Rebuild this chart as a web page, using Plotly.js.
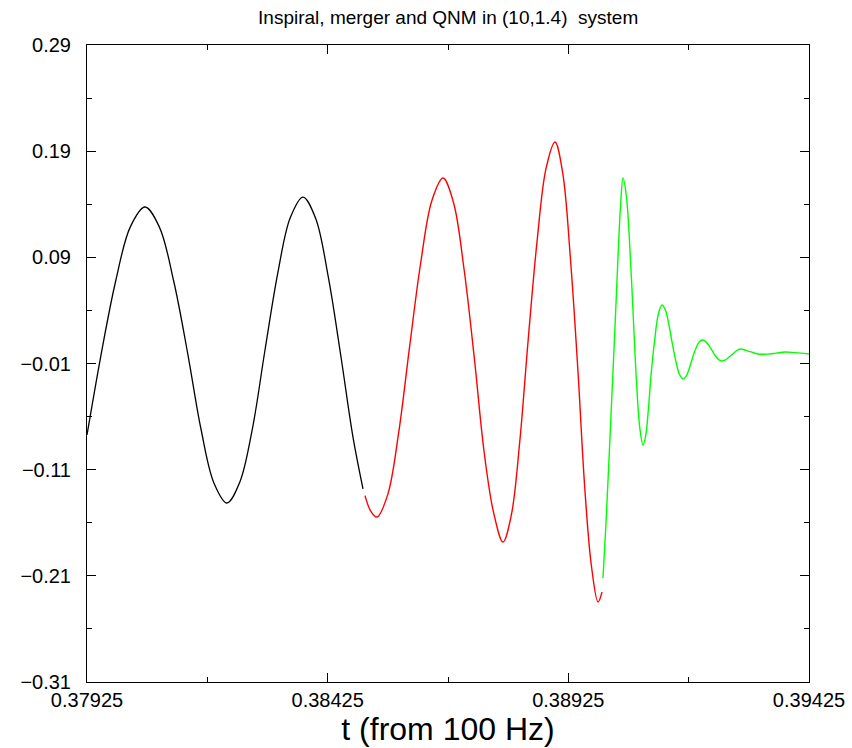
<!DOCTYPE html>
<html>
<head>
<meta charset="utf-8">
<script src="https://cdn.plot.ly/plotly-3.0.1.min.js"></script>
<style>html,body{margin:0;padding:0;background:#fff;}#chart{width:852px;height:748px;}</style>
</head>
<body>
<div id="chart"></div>
<script>
// Inspiral segment (black)
const inspiralT = [0.37925,0.379541,0.379846,0.380150,0.380455,0.380752,0.381051,0.381348,0.381618,0.381889,0.382159,0.382422,0.382684,0.382948,0.383212,0.383474,0.383738,0.384001,0.384263,0.384527,0.384776,0.384984];
const inspiralH = [-0.0773,-0.0020,0.0677,0.1187,0.1374,0.1187,0.0677,-0.0020,-0.0717,-0.1227,-0.1414,-0.1221,-0.0720,0.0027,0.0747,0.1275,0.1468,0.1266,0.0715,-0.0039,-0.0793,-0.1280];
// Merger segment (red)
const mergerT = [0.385026,0.385150,0.385275,0.385499,0.385726,0.385950,0.386183,0.386414,0.386646,0.386864,0.387083,0.387301,0.387498,0.387695,0.387893,0.388065,0.388240,0.388412,0.388599,0.388786,0.388973,0.389133,0.389291,0.389451,0.389590,0.389728,0.389867,0.389950];
const mergerH = [-0.1344,-0.1495,-0.1546,-0.1333,-0.0749,0.0050,0.0849,0.1433,0.1647,0.1417,0.0790,-0.0067,-0.0924,-0.1500,-0.1781,-0.1529,-0.0839,0.0103,0.1045,0.1735,0.1986,0.1696,0.0903,-0.0180,-0.1263,-0.2000,-0.2346,-0.2252];
// Quasi-normal-mode ringdown (green)
const qnmT = [0.389970,0.390033,0.390095,0.390157,0.390220,0.390282,0.390334,0.390386,0.390455,0.390525,0.390594,0.390662,0.390733,0.390801,0.390857,0.390912,0.390968,0.391044,0.391119,0.391196,0.391265,0.391335,0.391404,0.391481,0.391556,0.391632,0.391695,0.391757,0.391819,0.391888,0.391959,0.392027,0.392096,0.392167,0.392235,0.392304,0.392374,0.392443,0.392505,0.392567,0.392640,0.392713,0.392775,0.392837,0.393025,0.393191,0.393378,0.393565,0.393752,0.393959,0.39425];
const qnmH = [-0.2120,-0.1600,-0.1000,-0.0380,0.0250,0.0900,0.1380,0.1647,0.1480,0.1019,0.0390,-0.0239,-0.0700,-0.0868,-0.0781,-0.0539,-0.0209,0.0121,0.0363,0.0451,0.0405,0.0277,0.0103,-0.0072,-0.0199,-0.0246,-0.0222,-0.0155,-0.0063,0.0029,0.0096,0.0121,0.0109,0.0072,0.0023,-0.0027,-0.0063,-0.0076,-0.0069,-0.0048,-0.0020,0.0009,0.0029,0.0037,0.0012,-0.0010,-0.0012,-0.0002,0.0008,0.0002,-0.0010];

const xTicks = [0.37925,0.38425,0.38925,0.39425];
const xTickText = ["0.37925","0.38425","0.38925","0.39425"];
const yTicks = [-0.31,-0.21,-0.11,-0.01,0.09,0.19,0.29];
const yTickText = ["\u22120.31","\u22120.21","\u22120.11","\u22120.01","0.09","0.19","0.29"];

const FONT = "Liberation Sans, Arial, sans-serif";

const traces = [
  {x: inspiralT, y: inspiralH, mode: "lines", line: {color: "#000000", width: 1.3, shape: "spline", smoothing: 1}, hoverinfo: "skip"},
  {x: mergerT, y: mergerH, mode: "lines", line: {color: "#ff0000", width: 1.4, shape: "spline", smoothing: 1}, hoverinfo: "skip"},
  {x: qnmT, y: qnmH, mode: "lines", line: {color: "#00ff00", width: 1.4, shape: "spline", smoothing: 1}, hoverinfo: "skip"}
];

const layout = {
  width: 852, height: 748,
  paper_bgcolor: "#ffffff", plot_bgcolor: "#ffffff",
  showlegend: false,
  margin: {l: 87, r: 43, t: 45, b: 66, pad: 0},
  font: {family: FONT, color: "#000000", size: 20},
  title: {text: "Inspiral, merger and QNM in (10,1.4)  system", font: {family: FONT, size: 19, color: "#000"}, x: 0.526, xanchor: "center", y: 0.977, yanchor: "middle"},
  xaxis: {
    range: [0.37925, 0.39425], tickmode: "array", tickvals: xTicks, ticktext: xTickText,
    ticks: "inside", ticklen: 9, tickwidth: 1, tickcolor: "#000",
    minor: {ticks: "inside", ticklen: 5, tickmode: "linear", tick0: 0.37925, dtick: 0.0025, tickcolor: "#000", showgrid: false},
    showline: true, linecolor: "#000", linewidth: 1, mirror: "allticks",
    showgrid: false, zeroline: false, automargin: false,
    tickfont: {family: FONT, size: 20},
    ticklabelstandoff: 0,
    title: {text: "t (from 100 Hz)", font: {family: FONT, size: 32}, standoff: 0}
  },
  yaxis: {
    range: [-0.31, 0.29], tickmode: "array", tickvals: yTicks, ticktext: yTickText,
    ticks: "inside", ticklen: 9, tickwidth: 1, tickcolor: "#000",
    minor: {ticks: "inside", ticklen: 5, tickmode: "linear", tick0: -0.31, dtick: 0.05, tickcolor: "#000", showgrid: false},
    showline: true, linecolor: "#000", linewidth: 1, mirror: "allticks",
    showgrid: false, zeroline: false, automargin: false,
    tickfont: {family: FONT, size: 20},
    ticklabelstandoff: 11
  }
};

Plotly.newPlot("chart", traces, layout, {staticPlot: true, displayModeBar: false});
</script>
</body>
</html>
